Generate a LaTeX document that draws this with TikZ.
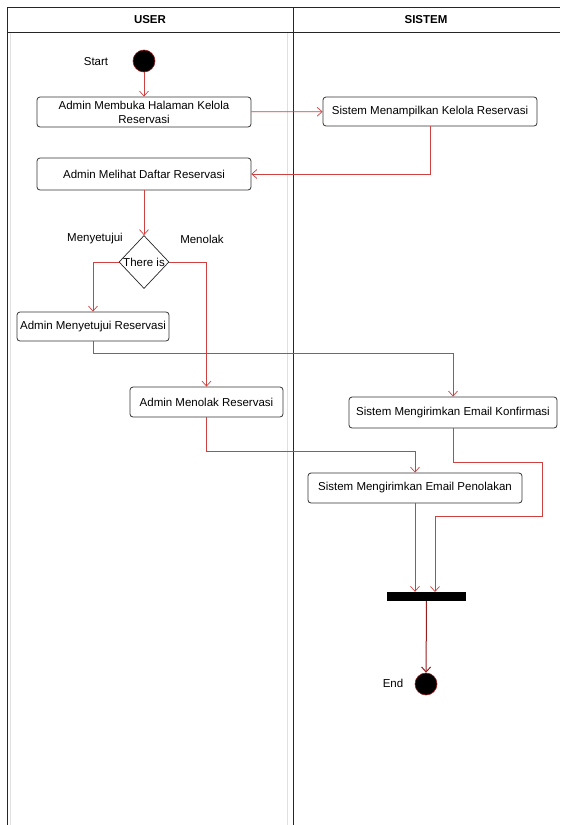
\documentclass[tikz,border=0pt]{standalone}
\usepackage{fontspec}
\setmainfont{Liberation Sans}
\usetikzlibrary{arrows.meta,shapes.geometric,calc}
\definecolor{lnred}{RGB}{205,65,65}
\definecolor{dkred}{RGB}{150,30,30}
\begin{document}
\begin{tikzpicture}[x=1pt,y=-1pt,
  act/.style={draw=black!80, line width=0.8pt, rounded corners=3pt, fill=white, align=center,
    font=\fontsize{11.5}{14}\selectfont, inner sep=0pt},
  lbl/.style={font=\fontsize{11.5}{14}\selectfont, inner sep=0pt},
  hdr/.style={font=\bfseries\fontsize{11.5}{13}\selectfont, inner sep=0pt},
  flow/.style={draw=lnred, line width=0.7pt, -{Straight Barb[length=5pt,width=9pt]}},
  lane/.style={draw=black!85, line width=1pt},
  faint/.style={draw=black!12, line width=0.8pt}
]
\useasboundingbox (0,0) rectangle (560,825);
% swimlane frame
\draw[lane] (7.5,825) -- (7.5,7.5) -- (560,7.5);
\draw[lane] (7.5,32.5) -- (560,32.5);
\draw[lane] (293,7.5) -- (293,825);
\draw[faint] (10,33) -- (10,825);
\draw[faint] (287.5,33) -- (287.5,825);
\node[hdr] (husr) at (150,20) {USER};
\node[hdr] (hsis) at (426,20) {SISTEM};
% nodes
\node[circle, fill=black, draw=dkred, line width=0.6pt, minimum size=22pt, inner sep=0pt] (start) at (144,61) {};
\node[lbl] (lstart) at (96,62) {Start};
\node[act, minimum width=214pt, minimum height=30pt] (b1) at (144,112) {Admin Membuka Halaman Kelola\\Reservasi};
\node[act, minimum width=214pt, minimum height=29pt] (b2) at (430,111.5) {Sistem Menampilkan Kelola Reservasi};
\node[act, minimum width=214pt, minimum height=32pt] (b3) at (144,174) {Admin Melihat Daftar Reservasi};
\node[diamond, draw=black!85, line width=0.7pt, fill=white, minimum width=50pt, minimum height=53pt, inner sep=0pt,
  font=\fontsize{11.5}{14}\selectfont] (dec) at (144,262) {There is};
\node[lbl] (lyes) at (95,239) {Menyetujui};
\node[lbl] (lno) at (202,239) {Menolak};
\node[act, minimum width=152pt, minimum height=29pt] (b4) at (93,326.5) {Admin Menyetujui Reservasi};
\node[act, minimum width=153pt, minimum height=30pt] (b5) at (206.5,402) {Admin Menolak Reservasi};
\node[act, minimum width=208pt, minimum height=31pt] (b6) at (453,412.5) {Sistem Mengirimkan Email Konfirmasi};
\node[act, minimum width=214pt, minimum height=30pt] (b7) at (415,488) {Sistem Mengirimkan Email Penolakan};
\node[fill=black, minimum width=79pt, minimum height=9pt, inner sep=0pt] (bar) at (426.5,596.5) {};
\node[circle, fill=black, draw=dkred, line width=0.6pt, minimum size=22pt, inner sep=0pt] (end) at (426,684) {};
\node[lbl] (lend) at (393,683) {End};
\coordinate (k1) at (542,516);
\coordinate (barin) at (435,592);
% connectors
\draw[flow] (start) -- (b1);
\draw[flow] (b1) -- (b2);
\draw[flow] (b2.south) |- (b3.east);
\draw[flow] (b3) -- (dec);
\draw[flow] (dec.west) -| (b4.north);
\draw[flow] (dec.east) -| (b5.north);
\draw[flow] (b4.south) -- ++(0,12) -| (b6.north);
\draw[flow] (b5.south) -- ++(0,34) -| (b7.north);
\draw[flow] (b6.south) -- ++(0,34) -| (k1) -| (barin);
\draw[flow] (b7.south) -- (b7.south |- bar.north);
\draw[draw=dkred, line width=1pt, -{Straight Barb[length=5pt,width=9pt]}] (bar) -- (end);
\end{tikzpicture}
\end{document}
